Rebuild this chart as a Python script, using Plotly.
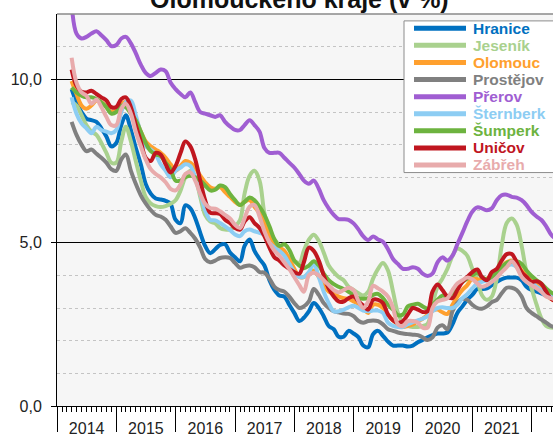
import plotly.graph_objects as go
import pandas as pd

# Monthly values (Apr 2014 onward), unemployment share in %
hranice = [9.7, 9.3, 9.0, 8.8, 8.75, 8.7, 8.5, 8.25, 7.95, 8.05,
           8.6, 8.9, 8.45, 7.9, 7.4, 6.8, 6.5, 6.35, 6.32, 6.28,
           6.19, 5.7, 5.6, 6.14, 6.05, 5.75, 5.3, 4.9, 4.68, 4.8,
           4.93, 4.95, 4.7, 4.55, 4.43, 4.9, 5.1, 4.75, 4.5, 4.3,
           3.85, 3.55, 3.38, 3.35, 3.1, 2.85, 2.6, 2.7, 2.9, 3.15,
           3.0, 2.75, 2.45, 2.35, 2.12, 2.12, 2.3, 2.22, 2.1, 1.85,
           1.8, 2.2, 2.3, 2.15, 1.97, 1.85, 1.85, 1.85, 1.82, 1.85,
           1.95, 2.02, 2.1, 2.17, 2.22, 2.22, 2.25, 2.5, 2.85, 3.05,
           3.25, 3.4, 3.58, 3.58, 3.6, 3.7, 3.8, 3.88, 3.93, 3.93,
           3.93, 3.85, 3.65, 3.55, 3.5, 3.45, 3.38, 3.35, 3.3]
jesenik = [9.3, 9.2, 8.9, 8.6, 8.4, 8.3, 8.05, 7.75, 7.45, 7.45,
           8.1, 8.55, 8.1, 7.5, 6.9, 6.4, 6.2, 6.12, 6.09, 6.12,
           6.19, 6.3, 6.6, 7.0, 7.2, 7.0, 6.4, 5.85, 5.65, 5.59,
           5.45, 5.4, 5.4, 5.5, 5.69, 6.5, 7.05, 7.2, 6.9, 5.9,
           5.35, 5.1, 4.9, 4.65, 4.55, 4.45, 4.38, 4.75, 5.09, 5.24,
           5.05, 4.7, 4.3, 4.1, 3.95, 3.85, 3.65, 3.55, 3.45, 3.38,
           3.5, 3.9, 4.2, 4.38, 4.15, 3.5, 2.85, 2.55, 2.45, 2.42,
           2.42, 2.45, 2.52, 3.1, 3.65, 3.9, 4.2, 4.6, 4.82, 4.75,
           4.6, 4.2, 3.85, 3.4, 3.25, 3.35, 3.9, 4.9, 5.6, 5.74,
           5.55, 4.9, 4.1, 3.6, 3.1, 2.7, 2.45, 2.4, 2.4]
olomouc = [9.95, 9.55, 9.2, 9.1, 9.2, 9.35, 9.3, 9.15, 9.0, 9.05,
           9.25, 9.3, 9.1, 8.8, 8.4, 8.1, 7.95, 7.85, 7.75, 7.6,
           7.4, 7.2, 7.35, 7.5, 7.45, 7.3, 7.05, 6.85, 6.7, 6.65,
           6.7, 6.55, 6.4, 6.25, 6.15, 6.25, 6.3, 6.1, 5.9, 5.6,
           5.2, 4.95, 4.85, 4.75, 4.5, 4.2, 3.95, 3.95, 4.05, 4.15,
           3.95, 3.7, 3.5, 3.45, 3.35, 3.3, 3.28, 3.2, 3.12, 3.0,
           2.85, 3.1, 3.1, 3.0, 2.8, 2.62, 2.5, 2.42, 2.45, 2.5,
           2.6, 2.67, 2.8, 2.92, 2.95, 2.87, 2.82, 3.1, 3.35, 3.55,
           3.7, 3.9, 3.88, 3.85, 3.9, 4.0, 4.1, 4.25, 4.4, 4.45,
           4.35, 4.15, 4.05, 3.9, 3.75, 3.55, 3.4, 3.28, 3.2]
prostejov = [8.7, 8.3, 8.0, 7.8, 7.85, 7.72, 7.6, 7.45, 7.25, 7.2,
             7.55, 7.7, 7.2, 6.8, 6.45, 6.2, 6.0, 5.85, 5.8, 5.7,
             5.5, 5.3, 5.35, 5.44, 5.3, 5.12, 4.85, 4.5, 4.4, 4.45,
             4.53, 4.55, 4.53, 4.38, 4.23, 4.28, 4.3, 4.25, 4.1, 4.08,
             3.9, 3.65, 3.55, 3.5, 3.35, 3.15, 3.0, 3.05, 3.2, 3.58,
             3.4, 3.15, 3.0, 2.9, 2.87, 2.83, 2.82, 2.75, 2.6, 2.55,
             2.6, 2.62, 2.6, 2.5, 2.35, 2.3, 2.25, 2.22, 2.2, 2.18,
             2.17, 2.1, 2.02, 2.1, 2.4, 2.47, 2.35, 2.9, 3.15, 3.28,
             3.25, 3.1, 3.0, 2.98, 3.05, 3.18, 3.25, 3.45, 3.62, 3.62,
             3.55, 3.35, 3.0, 2.85, 2.75, 2.65, 2.55, 2.45, 2.4]
prerov = [12.3, 11.4, 11.25, 11.3, 11.4, 11.47, 11.35, 11.2, 11.02, 11.05,
          11.25, 11.3, 11.1, 10.8, 10.45, 10.2, 10.1, 10.2, 10.3, 10.25,
          9.9, 9.7, 9.55, 9.45, 9.6, 9.3, 9.0, 8.95, 8.9, 8.85,
          8.9, 8.7, 8.56, 8.45, 8.45, 8.6, 8.75, 8.6, 8.4, 7.9,
          7.75, 7.75, 7.75, 7.6, 7.45, 7.3, 7.1, 6.9, 6.8, 6.9,
          6.65, 6.3, 6.05, 5.85, 5.72, 5.72, 5.7, 5.59, 5.4, 5.2,
          5.08, 5.19, 5.1, 5.03, 4.8, 4.5, 4.35, 4.2, 4.2, 4.25,
          4.2, 4.05, 3.98, 4.05, 4.4, 4.55, 4.45, 4.6, 4.95, 5.3,
          5.65, 5.95, 6.08, 6.05, 5.99, 6.05, 6.3, 6.45, 6.47, 6.4,
          6.38, 6.3, 6.15, 5.94, 5.8, 5.7, 5.5, 5.25, 5.1]
sternberk = [9.45, 8.95, 8.65, 8.5, 8.35, 8.55, 8.45, 8.4, 8.35, 8.45,
             9.0, 9.3, 9.35, 8.9, 8.35, 7.95, 7.85, 7.7, 7.4, 7.2,
             7.0, 7.2, 7.3, 7.4, 7.35, 7.0, 6.5, 6.0, 5.7, 5.68,
             5.6, 5.5, 5.39, 5.25, 5.2, 5.35, 5.4, 5.35, 5.3, 5.24,
             5.0, 4.85, 4.75, 4.6, 4.35, 4.1, 3.95, 3.95, 4.1, 4.35,
             3.95, 3.5, 3.15, 2.9, 2.9, 2.95, 3.02, 3.07, 3.0, 2.92,
             2.9, 2.92, 2.92, 2.85, 2.55, 2.45, 2.42, 2.42, 2.5, 2.57,
             2.62, 2.67, 2.75, 2.9, 3.0, 3.02, 3.0, 3.0, 3.1, 3.3,
             3.42, 3.6, 3.75, 3.8, 3.85, 3.95, 4.05, 4.15, 4.28, 4.33,
             4.25, 4.0, 3.85, 3.78, 3.65, 3.55, 3.4, 3.35, 3.3]
sumperk = [9.75, 9.6, 9.5, 9.45, 9.45, 9.4, 9.3, 9.15, 8.95, 9.0,
           9.2, 9.15, 8.95, 8.75, 8.4, 8.05, 7.8, 7.7, 7.65, 7.45,
           7.25, 6.9, 6.9, 7.0, 7.05, 7.0, 6.9, 6.75, 6.6, 6.62,
           6.75, 6.7, 6.49, 6.3, 6.15, 6.25, 6.38, 6.3, 6.1, 5.85,
           5.5, 5.1, 4.9, 4.95, 4.78, 4.45, 4.3, 4.22, 4.3, 4.43,
           4.3, 4.05, 3.85, 3.73, 3.65, 3.58, 3.5, 3.4, 3.3, 3.28,
           3.3, 3.4, 3.43, 3.3, 3.1, 2.95, 2.78, 2.8, 3.05, 3.1,
           3.13, 3.05, 2.98, 3.1, 3.25, 3.38, 3.35, 3.45, 3.65, 3.8,
           3.9, 4.0, 4.08, 3.95, 3.88, 3.95, 4.1, 4.25, 4.38, 4.42,
           4.43, 4.35, 4.15, 3.98, 3.85, 3.75, 3.6, 3.48, 3.4]
unicov = [10.3, 9.8, 9.62, 9.6, 9.65, 9.55, 9.45, 9.35, 9.15, 9.15,
          9.4, 9.45, 9.15, 8.6, 8.1, 7.6, 7.5, 7.75, 7.7, 7.4,
          7.15, 7.35, 7.75, 8.1, 7.95, 7.55, 6.9, 6.3, 5.92, 5.9,
          5.88, 5.7, 5.6, 5.45, 5.4, 5.65, 5.78, 5.6, 5.45, 5.2,
          4.85, 4.55, 4.45, 4.3, 4.2, 4.1, 4.05, 4.4, 4.85, 4.75,
          4.45, 4.0, 3.6, 3.35, 3.2, 3.2, 3.3, 3.35, 3.2, 3.08,
          2.95, 3.25, 3.25, 3.15, 2.8, 2.62, 2.55, 2.6, 2.8, 3.0,
          2.95, 2.88, 2.9, 3.5, 3.72, 3.55, 3.35, 3.3, 3.55, 3.8,
          3.95, 4.1, 4.18, 3.95, 3.85, 4.1, 4.2, 4.45, 4.65, 4.65,
          4.4, 4.1, 3.95, 3.8, 3.82, 3.75, 3.5, 3.28, 3.2]
zabreh = [10.66, 9.9, 9.6, 9.5, 9.25, 9.38, 9.15, 8.85, 8.6, 8.6,
          9.1, 9.25, 8.95, 8.4, 7.95, 7.55, 7.25, 7.1, 7.0, 6.85,
          6.65, 6.6, 6.79, 7.1, 7.15, 6.9, 6.5, 6.19, 6.06, 6.04,
          5.96, 5.85, 5.74, 5.55, 5.45, 5.75, 6.1, 6.15, 5.8, 5.35,
          5.0, 4.75, 4.6, 4.4, 4.2, 3.95, 3.7, 3.5, 4.0, 4.08,
          4.0, 3.85, 3.7, 3.55, 3.48, 3.55, 3.62, 3.55, 3.2, 3.0,
          3.2, 3.68, 3.6, 3.5, 3.35, 3.0, 2.5, 2.45, 2.6, 2.6,
          2.55, 2.4, 2.4, 3.0, 3.2, 3.25, 3.3, 3.55, 3.75, 3.85,
          3.93, 3.88, 3.75, 3.65, 3.7, 3.8, 3.93, 4.1, 4.25, 4.43,
          4.25, 3.95, 3.8, 3.7, 3.6, 3.5, 3.35, 3.3, 3.25]

names = ["Hranice", "Jeseník", "Olomouc", "Prostějov", "Přerov",
         "Šternberk", "Šumperk", "Uničov", "Zábřeh"]
series = [hranice, jesenik, olomouc, prostejov, prerov,
          sternberk, sumperk, unicov, zabreh]
colors = ["#0070C0", "#A9D18E", "#FFA02E", "#808080", "#A05ED2",
          "#8DCDF3", "#6DB33F", "#C0161F", "#E8ABAC"]

months = pd.date_range("2014-04-01", periods=len(hranice), freq="MS")

FONT = "Arial, Liberation Sans, sans-serif"
W, H = 553, 437
ML, MR, MT, MB = 57, 0, 14, 25
PW, PH = W - ML - MR, H - MT - MB


def px(xp):
    return (xp - ML) / PW


def py(yp):
    return (H - MB - yp) / PH


fig = go.Figure()
for name, vals, col in zip(names, series, colors):
    fig.add_trace(go.Scatter(
        x=months, y=vals, mode="lines", name=name, showlegend=False,
        line=dict(color=col, width=4, shape="spline"),
    ))

# Title (partly cut off at the top, as in the source image)
fig.add_annotation(
    text="<b>Olomouckého kraje (v %)</b>", xref="paper", yref="paper",
    x=px(299), y=py(-1), yanchor="middle", xanchor="center", showarrow=False,
    font=dict(family=FONT, size=25, color="#111111"),
)

# top border of plot area
fig.add_shape(type="line", xref="paper", yref="paper", x0=0, x1=1, y0=1, y1=1,
              line=dict(color="#8a8a8a", width=1.5))

# Legend box (extends past the right edge)
fig.add_shape(type="rect", xref="paper", yref="paper",
              x0=px(404), x1=px(600), y0=py(175), y1=py(21),
              fillcolor="white", line=dict(color="#8c8c8c", width=1), layer="above")
for k, (name, col) in enumerate(zip(names, colors)):
    yc = 28.5 + k * 17.35
    fig.add_shape(type="line", xref="paper", yref="paper",
                  x0=px(414), x1=px(466), y0=py(yc), y1=py(yc),
                  line=dict(color=col, width=5), layer="above")
    fig.add_annotation(text=f"<b>{name}</b>", xref="paper", yref="paper",
                       x=px(471), y=py(yc), xanchor="left", yanchor="middle",
                       showarrow=False,
                       font=dict(family=FONT, size=15.5, color=col))

fig.update_layout(
    width=W, height=H,
    margin=dict(l=ML, r=MR, t=MT, b=MB),
    paper_bgcolor="white", plot_bgcolor="#f6f6f6",
    separators=", ",
    font=dict(family=FONT, size=16, color="#222222"),
    showlegend=False,
    xaxis=dict(
        type="date", range=["2014-01-01", "2022-05-13"],
        tickmode="linear", tick0="2014-01-01", dtick="M12",
        ticklabelmode="period", tickformat="%Y",
        ticks="outside", ticklen=25, tickcolor="black", tickwidth=1,
        ticklabelstandoff=-17,
        showline=True, linecolor="black", linewidth=1,
        showgrid=False, zeroline=False,
        minor=dict(dtick="M1", tick0="2014-01-01", ticks="outside", ticklen=5,
                   tickcolor="black", showgrid=False),
        tickfont=dict(family=FONT, size=16, color="#222222"),
    ),
    yaxis=dict(
        range=[0, 12], tickmode="linear", tick0=0, dtick=5, tickformat=".1f",
        ticks="outside", ticklen=5, tickcolor="black",
        showline=True, linecolor="black", linewidth=1,
        showgrid=True, gridcolor="black", gridwidth=1, zeroline=False,
        minor=dict(dtick=1, tick0=0, showgrid=True, gridcolor="#c4c4c4",
                   griddash="dot", gridwidth=1, ticks=""),
        tickfont=dict(family=FONT, size=16, color="#222222"),
        ticklabelstandoff=6,
    ),
)

fig.write_html("out.html", config={"displayModeBar": False},
               post_script="document.body.style.margin='0px';document.body.style.overflow='hidden';")
